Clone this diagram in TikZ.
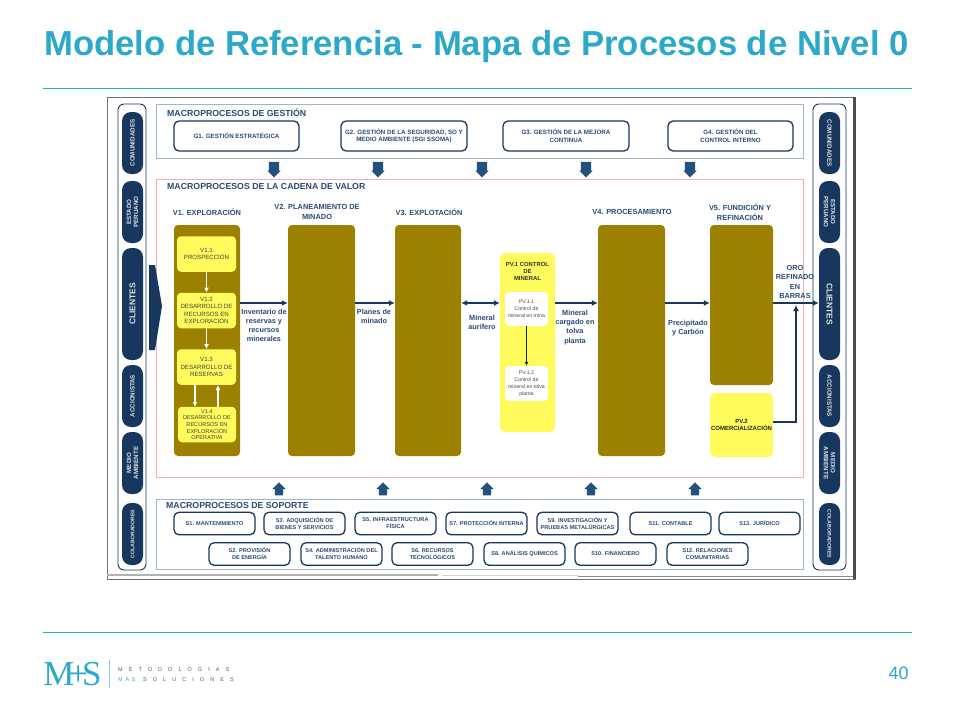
\documentclass[tikz,border=0pt]{standalone}
\usepackage{fontspec}
\setmainfont{Liberation Sans}
\newfontfamily\logofont{Liberation Serif}
\newfontfamily\logospaced[LetterSpace=110]{Liberation Sans}
\newfontfamily\logotight[LetterSpace=50]{Liberation Sans}
\usetikzlibrary{shapes.arrows, arrows.meta}
\definecolor{slidecyan}{HTML}{2BA8CA}
\definecolor{navy}{HTML}{17375E}
\definecolor{headblue}{HTML}{2A4A78}
\definecolor{olive}{HTML}{9C8000}
\definecolor{lemon}{HTML}{FFFB5C}
\definecolor{arrowblue}{HTML}{24527F}
\definecolor{groupgrey}{HTML}{A3B4C6}
\definecolor{grouppink}{HTML}{F7A9B5}
\tikzstyle{panel}=[draw=navy, line width=0.9pt, rounded corners=6pt, fill=white, minimum width=28pt, inner sep=0pt]
\tikzstyle{pill}=[fill=navy, text=white!85!navy, rounded corners=9pt, minimum height=21pt, inner sep=0pt, align=center, font=\fontsize{6.2}{7}\selectfont\bfseries]
\tikzstyle{groupbox}=[draw=#1, line width=1pt, fill=white, inner sep=0pt]
\tikzstyle{procbox}=[draw=navy, line width=1.3pt, fill=white, rounded corners=5pt, inner sep=0pt, align=center, text=headblue, font=\fontsize{6.2}{7.6}\selectfont\bfseries]
\tikzstyle{stage}=[fill=olive, rounded corners=4pt, inner sep=0pt]
\tikzstyle{sub}=[fill=lemon, rounded corners=4pt, inner sep=0pt, align=center, minimum width=59pt, minimum height=35.5pt, text=black!75, font=\fontsize{6.1}{7.3}\selectfont]
\tikzstyle{subw}=[fill=white, rounded corners=4pt, inner sep=0pt, align=center, minimum width=43pt, minimum height=34pt, text=black!70, font=\fontsize{5.2}{6.9}\selectfont]
\tikzstyle{title}=[anchor=west, inner sep=0pt, text=headblue, font=\fontsize{8.75}{9}\selectfont\bfseries]
\tikzstyle{head}=[inner sep=0pt, align=center, text=headblue, font=\fontsize{7.4}{9.6}\selectfont\bfseries]
\tikzstyle{flowlabel}=[inner sep=0pt, align=center, text=headblue, font=\fontsize{7.3}{9.1}\selectfont\bfseries]
\tikzstyle{blockdown}=[single arrow, fill=arrowblue, inner sep=5pt, minimum height=13pt, single arrow head extend=1.5pt, shape border rotate=270]
\tikzstyle{blockup}=[single arrow, fill=arrowblue, inner sep=4pt, minimum height=13pt, single arrow head extend=2.5pt, shape border rotate=90]
\tikzstyle{flow}=[draw=navy, line width=1.4pt, -{Latex[length=6pt, width=6pt]}]
\tikzstyle{subflow}=[draw=white, line width=1.1pt, -{Latex[length=5pt, width=5pt]}]
\begin{document}
\begin{tikzpicture}[x=1pt, y=-1pt]
\useasboundingbox (0,0) rectangle (960,720);
% slide header and footer
\node[anchor=west, inner sep=0pt, text=slidecyan, font=\fontsize{34.65}{36}\selectfont\bfseries] (slidetitle) at (44,47) {Modelo de Referencia - Mapa de Procesos de Nivel 0};
\coordinate (rule1a) at (43,88);
\coordinate (rule1b) at (912,88);
\coordinate (rule2a) at (43,632);
\coordinate (rule2b) at (912,632);
\draw[slidecyan, line width=0.8pt] (rule1a)--(rule1b);
\draw[slidecyan, line width=0.8pt] (rule2a)--(rule2b);
\node[text=slidecyan, inner sep=0pt, font=\fontsize{18}{19}\selectfont] (pagenum) at (898.5,673) {40};
\node[text=slidecyan, inner sep=0pt, font=\fontsize{35}{36}\logofont] (logomark) at (72.5,674) {M\kern-6pt+\kern-6pt S};
\coordinate (logobar1) at (109,660);
\coordinate (logobar2) at (109,688);
\draw[slidecyan!60, line width=0.6pt] (logobar1)--(logobar2);
\node[anchor=west, inner sep=0pt, text=black!65, font=\fontsize{5.5}{6}\logospaced] (logotop) at (118,669) {METODOLOGÍAS};
\node[anchor=west, inner sep=0pt, text=black!65, font=\fontsize{5.5}{6}\logospaced] (logobot) at (118,679) {\makebox[25pt][l]{\logotight\textcolor{slidecyan}{MÁS}}SOLUCIONES};
% screenshot frame
\node[draw=black!55, line width=0.9pt, minimum width=748pt, minimum height=482pt, inner sep=0pt] (shot) at (481,338) {};
\draw[black!70, line width=3pt] (854.5,97)--(854.5,579);
\draw[black!30, line width=2pt] (107,575)--(438,575);
\draw[black!18, line width=1.5pt] (442,575.5)--(578,575.5);
\draw[black!45, line width=0.7pt] (578,576)--(853,576);
% side panels
\node[panel, minimum height=466pt] (leftpanel) at (132,337) {};
\node[panel, minimum height=466pt, minimum width=33pt] (rightpanel) at (829.5,337) {};
\node[pill, rotate=90, minimum width=62pt] (lcom) at (132.5,143) {COMUNIDADES};
\node[pill, rotate=90, minimum width=62pt] (lest) at (132.5,212) {ESTADO\\PERUANO};
\node[pill, rotate=90, minimum width=112pt, font=\fontsize{8.4}{9}\selectfont\bfseries] (lcli) at (132.5,304) {CLIENTES};
\node[pill, rotate=90, minimum width=62pt] (lacc) at (132.5,396) {ACCIONISTAS};
\node[pill, rotate=90, minimum width=62pt] (lmed) at (132.5,463) {MEDIO\\AMBIENTE};
\node[pill, rotate=90, minimum width=62pt, font=\fontsize{5.2}{6}\selectfont\bfseries] (lcol) at (132.5,534) {COLABORADORES};
\node[pill, rotate=-90, minimum width=62pt] (rcom) at (829.5,143) {COMUNIDADES};
\node[pill, rotate=-90, minimum width=62pt] (rest) at (829.5,212) {ESTADO\\PERUANO};
\node[pill, rotate=-90, minimum width=112pt, font=\fontsize{8.4}{9}\selectfont\bfseries] (rcli) at (829.5,304) {CLIENTES};
\node[pill, rotate=-90, minimum width=62pt] (racc) at (829.5,396) {ACCIONISTAS};
\node[pill, rotate=-90, minimum width=62pt] (rmed) at (829.5,463) {MEDIO\\AMBIENTE};
\node[pill, rotate=-90, minimum width=62pt, font=\fontsize{5.2}{6}\selectfont\bfseries] (rcol) at (829.5,534) {COLABORADORES};
% gestion
\node[groupbox=groupgrey, minimum width=647pt, minimum height=54pt] (gestion) at (479.5,131) {};
\node[title] (gestiontitle) at (167,113) {MACROPROCESOS DE GESTIÓN};
\node[procbox, minimum width=125pt, minimum height=30pt] (g1) at (236.5,136) {G1. GESTIÓN ESTRATÉGICA};
\node[procbox, minimum width=126pt, minimum height=30pt] (g2) at (404,136) {G2. GESTIÓN DE LA SEGURIDAD, SO Y\\MEDIO AMBIENTE (SGI SSOMA)};
\node[procbox, minimum width=126pt, minimum height=30pt] (g3) at (566,136) {G3. GESTIÓN DE LA MEJORA\\CONTINUA};
\node[procbox, minimum width=125pt, minimum height=30pt] (g4) at (730.5,136) {G4. GESTIÓN DEL\\CONTROL INTERNO};
\node[blockdown] (d1) at (274,167) {};
\node[blockdown] (d2) at (378,167) {};
\node[blockdown] (d3) at (482,167) {};
\node[blockdown] (d4) at (586,167) {};
\node[blockdown] (d5) at (690,167) {};
% cadena de valor
\node[groupbox=grouppink, minimum width=647pt, minimum height=298pt] (cadena) at (479.5,328) {};
\fill[navy] (149,265)--(155,265)--(162,306)--(155,350)--(149,350)--cycle;
\node[title] (cadenatitle) at (167,186.5) {MACROPROCESOS DE LA CADENA DE VALOR};
\node[head] (h1) at (207,212) {V1. EXPLORACIÓN};
\node[head] (h2) at (317,212) {V2. PLANEAMIENTO DE\\MINADO};
\node[head] (h3) at (429,212) {V3. EXPLOTACIÓN};
\node[head] (h4) at (632,212) {V4. PROCESAMIENTO};
\node[head] (h5) at (740,212) {V5. FUNDICIÓN Y\\REFINACIÓN};
\node[stage, minimum width=66pt, minimum height=231pt] (v1) at (207,340.5) {};
\node[stage, minimum width=67pt, minimum height=231pt] (v2) at (321.5,340.5) {};
\node[stage, minimum width=66pt, minimum height=231pt] (v3) at (428,340.5) {};
\node[stage, minimum width=67pt, minimum height=231pt] (v4) at (631.5,340.5) {};
\node[stage, minimum width=63pt, minimum height=160pt] (v5) at (741.5,305) {};
\node[sub] (v11) at (206.5,254) {V1.1\\PROSPECCIÓN};
\node[sub] (v12) at (206.5,310.5) {V1.2\\DESARROLLO DE\\RECURSOS EN\\EXPLORACIÓN};
\node[sub] (v13) at (206.5,367) {V1.3\\DESARROLLO DE\\RESERVAS};
\node[sub, minimum width=58pt, font=\fontsize{5.6}{6.7}\selectfont] (v14) at (207,424.5) {V1.4\\DESARROLLO DE\\RECURSOS EN\\EXPLORACIÓN\\OPERATIVA};
\draw[subflow] (v11)--(v12);
\draw[subflow] (v12)--(v13);
\coordinate (v13a) at (195,385);
\coordinate (v14a) at (195,407);
\coordinate (v13b) at (218,385);
\coordinate (v14b) at (218,407);
\draw[subflow] (v13a)--(v14a);
\draw[subflow] (v14b)--(v13b);
\node[fill=lemon, rounded corners=6pt, minimum width=55pt, minimum height=179pt, inner sep=0pt] (pv1) at (527.5,342.5) {};
\node[inner sep=0pt, align=center, font=\fontsize{5.9}{7}\selectfont\bfseries, text=black!80] (pv1title) at (527.5,271) {PV.1 CONTROL\\DE\\MINERAL};
\node[subw] (pv11) at (526.5,309) {PV.1.1\\Control de\\mineral en mina};
\node[subw, minimum height=35pt] (pv12) at (526.5,383.5) {PV.1.2\\Control de\\mineral en tolva\\planta};
\draw[draw=black!80!green, line width=0.8pt, -{Latex[length=4pt, width=4pt]}] (pv11)--(pv12);
\node[fill=lemon, rounded corners=6pt, minimum width=63pt, minimum height=64pt, inner sep=0pt, align=center, text=black!85, font=\fontsize{6}{7}\selectfont\bfseries] (pv2) at (741.5,425) {PV.2\\COMERCIALIZACIÓN};
% flujo principal
\coordinate (flowy) at (0,303);
\coordinate (pv2out) at (773,422);
\coordinate (orojoin) at (796,305);
\draw[flow] (v1.east |- flowy)--(v2.west |- flowy);
\draw[flow] (v2.east |- flowy)--(v3.west |- flowy);
\draw[flow, {Latex[length=6pt, width=6pt]}-{Latex[length=6pt, width=6pt]}] (v3.east |- flowy)--(pv1.west |- flowy);
\draw[flow] (pv1.east |- flowy)--(v4.west |- flowy);
\draw[flow] (v4.east |- flowy)--(v5.west |- flowy);
\draw[flow] (v5.east |- flowy)--(rcli.south |- flowy);
\draw[flow] (pv2out) -| (orojoin);
\node[flowlabel] (lab1) at (264,325.5) {Inventario de\\reservas y\\recursos\\minerales};
\node[flowlabel] (lab2) at (374,316.5) {Planes de\\minado};
\node[flowlabel] (lab3) at (482,322.5) {Mineral\\aurífero};
\node[flowlabel] (lab4) at (575,327.5) {Mineral\\cargado en\\tolva\\planta};
\node[flowlabel] (lab5) at (688,328.5) {Precipitado\\y Carbón};
\node[flowlabel] (lab6) at (795,282) {ORO\\REFINADO\\EN\\BARRAS};
% soporte
\node[blockup] (u1) at (279,491) {};
\node[blockup] (u2) at (383,491) {};
\node[blockup] (u3) at (487,491) {};
\node[blockup] (u4) at (591,491) {};
\node[blockup] (u5) at (695,491) {};
\node[groupbox=groupgrey, minimum width=647pt, minimum height=70pt] (soporte) at (479.5,534) {};
\node[title] (soportetitle) at (166,505.5) {MACROPROCESOS DE SOPORTE};
\tikzstyle{sbox}=[procbox, minimum width=81pt, minimum height=22.5pt, font=\fontsize{5.6}{7}\selectfont\bfseries]
\node[sbox] (s1) at (214.5,523.5) {S1. MANTENIMIENTO};
\node[sbox] (s3) at (304.5,523.5) {S3. ADQUISICIÓN DE\\BIENES Y SERVICIOS};
\node[sbox] (s5) at (395.5,523.5) {S5. INFRAESTRUCTURA\\FÍSICA};
\node[sbox] (s7) at (486.5,523.5) {S7. PROTECCIÓN INTERNA};
\node[sbox] (s9) at (577.5,523.5) {S9. INVESTIGACIÓN Y\\PRUEBAS METALÚRGICAS};
\node[sbox] (s11) at (670.5,523.5) {S11. CONTABLE};
\node[sbox] (s13) at (759.5,523.5) {S13. JURÍDICO};
\node[sbox] (s2) at (249.5,554) {S2. PROVISIÓN\\DE ENERGÍA};
\node[sbox] (s4) at (341.5,554) {S4. ADMINISTRACIÓN DEL\\TALENTO HUMANO};
\node[sbox] (s6) at (432.5,554) {S6. RECURSOS\\TECNOLÓGICOS};
\node[sbox] (s8) at (524.5,554) {S8. ANÁLISIS QUÍMICOS};
\node[sbox] (s10) at (615.5,554) {S10. FINANCIERO};
\node[sbox] (s12) at (707.5,554) {S12. RELACIONES\\COMUNITARIAS};
\end{tikzpicture}
\end{document}
